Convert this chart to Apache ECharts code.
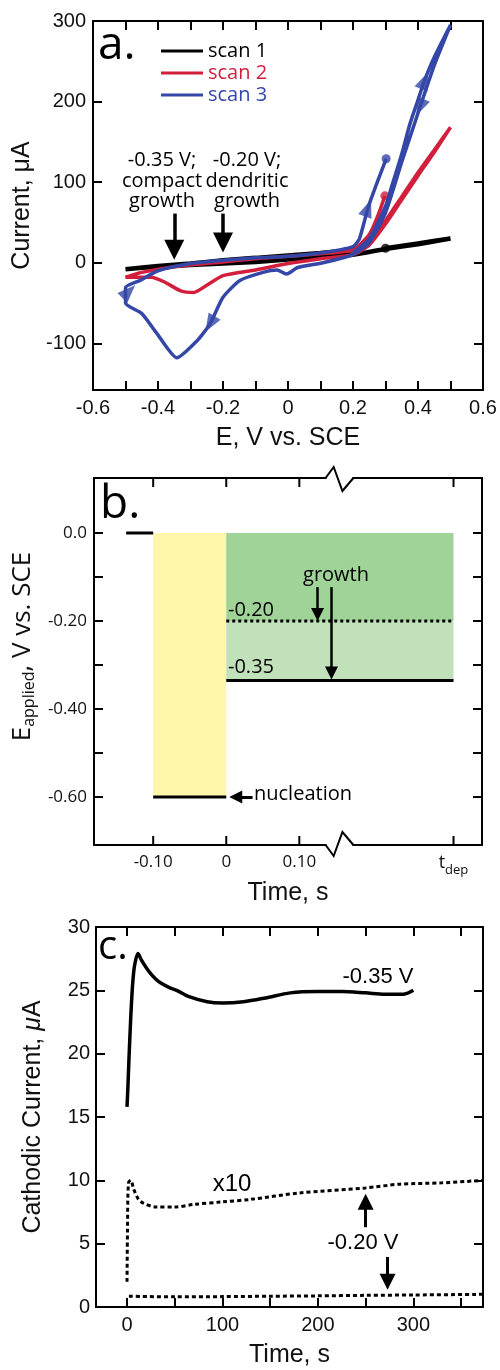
<!DOCTYPE html>
<html>
<head>
<meta charset="utf-8">
<script src="https://cdn.jsdelivr.net/npm/echarts@6.0.0/dist/echarts.min.js"></script>
<style>
html, body { margin: 0; padding: 0; background: #fff; }
#main { width: 500px; height: 1370px; }
</style>
</head>
<body>
<div id="main"></div>
<script>
// ---------- panel a: cyclic voltammograms (E in V, I in uA) ----------
const scan1E = [0.3, 0.4, 0.5, 0.4, 0.3, 0.2, 0.1, 0, -0.1, -0.2, -0.3, -0.4, -0.5, -0.4, -0.3, -0.2, -0.1, 0, 0.1, 0.2, 0.25, 0.29];
const scan1I = [18, 24, 30, 23, 17, 10, 7, 4, 1, -1, -3, -5, -8, -4, -1, 3, 6, 9, 12, 16, 26, 52];

const scan2E = [0.2, 0.25, 0.3, 0.35, 0.4, 0.45, 0.5, 0.45, 0.4, 0.35, 0.3, 0.25, 0.2, 0.1, 0, -0.1, -0.2, -0.25, -0.29, -0.33, -0.38, -0.42, -0.5, -0.45, -0.35, -0.2, -0.1, 0, 0.1, 0.2, 0.25, 0.28, 0.298];
const scan2I = [12, 24, 52, 82, 112, 140, 168, 137, 108, 78, 48, 22, 10, 5, -1, -9, -16, -28, -37, -35, -24, -18, -18, -12, -5, 1, 5, 8, 11, 16, 35, 62, 83];

const scan3E = [0.2, 0.25, 0.3, 0.32, 0.35, 0.375, 0.4, 0.42, 0.45, 0.5, 0.45, 0.406, 0.35, 0.3, 0.25, 0.2, 0.108, 0.03, -0.005, -0.034, -0.077, -0.148, -0.2, -0.24, -0.28, -0.342, -0.403, -0.45, -0.5, -0.5, -0.455, -0.4, -0.3, -0.2, -0.1, 0, 0.1, 0.2, 0.22, 0.246, 0.27, 0.302];
const scan3I = [12, 30, 70, 96, 135, 172, 202, 226, 255, 295, 245, 193, 125, 62, 25, 10, 0, -6, -14, -9, -12, -22, -43, -76, -97, -118, -88, -63, -50, -31, -22, -10, -1, 3, 6, 8, 12, 20, 30, 68, 95, 129];

const endDotE = [0.3, 0.298, 0.302];
const endDotI = [18, 83, 129];

const dirArrowE = [0.42, 0.406, 0.246, -0.49, -0.24];
const dirArrowI = [226, 193, 68, -36, -76];
const dirArrowRot = [-23, 157, -20, -45, 149];

const aXRange = [-0.6, 0.6], aYRange = [-158, 300];
const aXLabels = [-0.6, -0.4, -0.2, 0, 0.2, 0.4, 0.6];
const aYLabels = [-100, 0, 100, 200, 300];

// ---------- panel b: potential program ----------
const tDep = 0.311;
const bXRange = [-0.181, 0.35], bYRange = [-0.709, 0.125];
const preT = [-0.137, -0.1], preE = [0, 0];
const nucT = [-0.1, 0], nucE = [-0.6, -0.6];
const growT = [0, tDep];
const compactE = [-0.335, -0.335];
const dendriticE = [-0.2, -0.2];
const bXTicks = [-0.1, 0, 0.1, tDep];
const bYTicks = [0, -0.1, -0.2, -0.3, -0.4, -0.5, -0.6];
const bYLabels = [0, -0.2, -0.4, -0.6];

// ---------- panel c: chronoamperometry ----------
const c35T = [0, 1, 2, 4, 6, 8, 11.5, 15, 20, 25, 30, 35, 45, 52, 65, 84, 100, 122, 145, 171, 200, 225, 250, 270, 290, 300];
const c35I = [15.8, 17.5, 19.5, 23, 25.6, 27, 27.9, 27.4, 26.8, 26.3, 25.9, 25.6, 25.2, 25.0, 24.5, 24.1, 24.0, 24.1, 24.4, 24.8, 24.9, 24.9, 24.8, 24.7, 24.7, 25.0];
const c20x10T = [0, 0.5, 1.5, 4, 7, 12, 17, 30, 50, 70, 100, 130, 180, 250, 286, 330, 373];
const c20x10I = [2, 6, 9.8, 10, 9.3, 8.5, 8.2, 7.9, 7.9, 8.1, 8.3, 8.5, 9.0, 9.4, 9.7, 9.8, 10.0];
const c20T = [2, 50, 100, 150, 200, 250, 300, 373];
const c20I = [0.85, 0.8, 0.82, 0.85, 0.88, 0.92, 0.95, 1.0];
const cXRange = [-32.5, 373], cYRange = [0, 30];
const cXLabels = [0, 100, 200, 300];

const zip = (xs, ys) => xs.map((x, i) => [x, ys[i]]);

const BLACK = '#000', RED = '#d11f3c', BLUE = '#3447a6';
const SANS = 'Liberation Sans', MYR = 'Open Sans';

function axLine() { return { show: true, onZero: false, lineStyle: { color: '#000', width: 2 } }; }
function tickIn() { return { show: true, inside: true, length: 9, lineStyle: { color: '#000', width: 2 } }; }
function mirror(base, pos) {
  return Object.assign({}, base, { position: pos, name: '', axisLabel: { show: false }, axisTick: Object.assign({}, base.axisTick) });
}
const nameStyle = { fontFamily: SANS, fontSize: 25, color: '#111' };

const axA_x = {
  gridIndex: 0, type: 'value', min: aXRange[0], max: aXRange[1], interval: 0.1,
  axisLine: axLine(), axisTick: tickIn(), splitLine: { show: false },
  axisLabel: { customValues: aXLabels, formatter: v => String(v), fontFamily: SANS, fontSize: 20, color: '#111', margin: 8 },
  name: 'E, V vs. SCE', nameLocation: 'middle', nameGap: 36, nameTextStyle: nameStyle
};
const axA_y = {
  gridIndex: 0, type: 'value', min: aYRange[0], max: aYRange[1], splitNumber: 5,
  axisLine: axLine(), axisTick: tickIn(), splitLine: { show: false },
  axisLabel: { customValues: aYLabels, fontFamily: SANS, fontSize: 20, color: '#111', margin: 7 },
  name: 'Current, μA', nameLocation: 'middle', nameGap: 51, nameTextStyle: nameStyle
};
const axB_x = {
  gridIndex: 1, type: 'value', min: bXRange[0], max: bXRange[1],
  axisLine: axLine(), axisTick: { show: false }, splitLine: { show: false },
  axisLabel: {
    customValues: bXTicks, margin: 9, color: '#111', fontFamily: MYR, fontSize: 17,
    formatter: v => v === tDep ? '{t|t}{s|dep}' : (v === 0 ? '0' : v.toFixed(2)),
    rich: {
      t: { fontFamily: MYR, fontSize: 18, color: '#111', padding: [0, 0, 6, 0] },
      s: { fontFamily: MYR, fontSize: 13, color: '#111', padding: [9, 0, 0, 0] }
    }
  },
  name: 'Time, s', nameLocation: 'middle', nameGap: 36, nameTextStyle: nameStyle
};
const axB_y = {
  gridIndex: 1, type: 'value', min: bYRange[0], max: bYRange[1], splitNumber: 8,
  axisLine: axLine(), axisTick: { show: false }, splitLine: { show: false },
  axisLabel: { customValues: bYLabels, formatter: v => v === 0 ? '0.0' : v.toFixed(2), fontFamily: MYR, fontSize: 17, color: '#111', margin: 7 },
  name: '{m|E}{s|applied}{m|, V vs. SCE}', nameLocation: 'middle', nameGap: 57,
  nameTextStyle: {
    fontFamily: MYR, fontSize: 26, color: '#111', padding: [0, 0, 0, 30],
    rich: {
      m: { fontFamily: MYR, fontSize: 26, color: '#111' },
      s: { fontFamily: MYR, fontSize: 16, color: '#111', padding: [13, 0, 0, 0] }
    }
  }
};
const axC_x = {
  gridIndex: 2, type: 'value', min: cXRange[0], max: cXRange[1], splitNumber: 8,
  axisLine: axLine(), axisTick: tickIn(), splitLine: { show: false },
  axisLabel: { customValues: cXLabels, fontFamily: SANS, fontSize: 20, color: '#111', margin: 8 },
  name: 'Time, s', nameLocation: 'middle', nameGap: 36, nameTextStyle: nameStyle
};
const axC_y = {
  gridIndex: 2, type: 'value', min: cYRange[0], max: cYRange[1], interval: 5,
  axisLine: axLine(), axisTick: tickIn(), splitLine: { show: false },
  axisLabel: { fontFamily: SANS, fontSize: 20, color: '#111', margin: 6 },
  name: '{m|Cathodic Current, }{mu|μ}{m|A}', nameLocation: 'middle', nameGap: 50,
  nameTextStyle: {
    fontFamily: SANS, fontSize: 25, color: '#111',
    rich: {
      m: { fontFamily: SANS, fontSize: 25, color: '#111' },
      mu: { fontFamily: SANS, fontSize: 25, fontStyle: 'italic', color: '#111' }
    }
  }
};

function arrowLines(list, width, head) {
  return {
    silent: true, symbol: ['none', 'triangle'], symbolSize: head,
    label: { show: false }, emphasis: { disabled: true },
    lineStyle: { type: 'solid', color: '#000', width: width, opacity: 1 },
    itemStyle: { color: '#000' },
    data: list.map(a => [{ coord: a[0] }, { coord: a[1] }])
  };
}

const option = {
  animation: false,
  grid: [
    { left: 93, top: 21, width: 390, height: 369 },
    { left: 94, top: 478, width: 388, height: 367 },
    { left: 96, top: 927, width: 387, height: 380 }
  ],
  xAxis: [axA_x, mirror(axA_x, 'top'), axB_x, mirror(axB_x, 'top'), axC_x, mirror(axC_x, 'top')],
  yAxis: [axA_y, mirror(axA_y, 'right'), axB_y, mirror(axB_y, 'right'), axC_y, mirror(axC_y, 'right')],
  legend: {
    left: 156, top: 36, orient: 'vertical', icon: 'rect', itemWidth: 42, itemHeight: 3, itemGap: 2,
    selectedMode: false,
    textStyle: { fontFamily: MYR, fontSize: 20 },
    data: [
      { name: 'scan 1', textStyle: { color: BLACK, fontFamily: MYR, fontSize: 20 } },
      { name: 'scan 2', textStyle: { color: RED, fontFamily: MYR, fontSize: 20 } },
      { name: 'scan 3', textStyle: { color: BLUE, fontFamily: MYR, fontSize: 20 } }
    ]
  },
  series: [
    {
      name: 'scan 1', type: 'line', xAxisIndex: 0, yAxisIndex: 0, data: zip(scan1E, scan1I),
      symbol: 'none', smooth: 0.2, lineStyle: { color: BLACK, width: 4.5 }, itemStyle: { color: BLACK },
      markLine: arrowLines([[[-0.35, 61], [-0.35, 16]], [[-0.2, 61], [-0.2, 25]]], 3.5, 20)
    },
    {
      name: 'scan 2', type: 'line', xAxisIndex: 0, yAxisIndex: 0, data: zip(scan2E, scan2I),
      symbol: 'none', smooth: 0.2, lineStyle: { color: RED, width: 3.5 }, itemStyle: { color: RED }
    },
    {
      name: 'scan 3', type: 'line', xAxisIndex: 0, yAxisIndex: 0, data: zip(scan3E, scan3I),
      symbol: 'none', smooth: 0.2, lineStyle: { color: BLUE, width: 3.5 }, itemStyle: { color: BLUE }
    },
    {
      name: 'ends', type: 'scatter', xAxisIndex: 0, yAxisIndex: 0, symbolSize: 9, silent: true,
      data: endDotE.map((e, i) => ({ value: [e, endDotI[i]], itemStyle: { color: [BLACK, RED, BLUE][i] } }))
    },
    {
      name: 'direction', type: 'scatter', xAxisIndex: 0, yAxisIndex: 0, symbol: 'triangle', symbolSize: [14, 18], silent: true,
      itemStyle: { color: BLUE },
      data: dirArrowE.map((e, i) => ({ value: [e, dirArrowI[i]], symbolRotate: dirArrowRot[i] }))
    },
    // panel b
    {
      name: 'pre', type: 'line', xAxisIndex: 2, yAxisIndex: 2, data: zip(preT, preE),
      symbol: 'none', lineStyle: { color: BLACK, width: 3 }, z: 5,
      markArea: {
        silent: true,
        data: [
          [{ coord: [nucT[0], 0], itemStyle: { color: '#fff6a9' } }, { coord: [nucT[1], nucE[0]] }],
          [{ coord: [growT[0], 0], itemStyle: { color: '#9fd398' } }, { coord: [growT[1], dendriticE[0]] }],
          [{ coord: [growT[0], dendriticE[0]], itemStyle: { color: '#c1e1ba' } }, { coord: [growT[1], compactE[0]] }]
        ]
      }
    },
    {
      name: 'nucleation', type: 'line', xAxisIndex: 2, yAxisIndex: 2, data: zip(nucT, nucE),
      symbol: 'none', lineStyle: { color: BLACK, width: 3 }, z: 5,
      markLine: arrowLines([[[0.036, -0.6], [0.013, -0.6]]], 3, 13)
    },
    {
      name: 'compact', type: 'line', xAxisIndex: 2, yAxisIndex: 2, data: zip(growT, compactE),
      symbol: 'none', lineStyle: { color: BLACK, width: 3 }, z: 5,
      markLine: arrowLines([[[0.125, -0.123], [0.125, -0.185]], [[0.144, -0.123], [0.144, -0.318]]], 2.5, 13)
    },
    {
      name: 'dendritic', type: 'line', xAxisIndex: 2, yAxisIndex: 2, data: zip(growT, dendriticE),
      symbol: 'none', lineStyle: { color: BLACK, width: 3, type: [3, 3] }, z: 5
    },
    // panel c
    {
      name: '-0.35 V', type: 'line', xAxisIndex: 4, yAxisIndex: 4, data: zip(c35T, c35I),
      symbol: 'none', smooth: 0.3, lineStyle: { color: BLACK, width: 3.5 }
    },
    {
      name: '-0.20 V x10', type: 'line', xAxisIndex: 4, yAxisIndex: 4, data: zip(c20x10T, c20x10I),
      symbol: 'none', smooth: 0.3, lineStyle: { color: BLACK, width: 3, type: [4, 3] },
      markLine: arrowLines([[[250, 6.3], [250, 8.3]], [[273, 3.95], [273, 2.0]]], 3, 16)
    },
    {
      name: '-0.20 V', type: 'line', xAxisIndex: 4, yAxisIndex: 4, data: zip(c20T, c20I),
      symbol: 'none', smooth: 0.3, lineStyle: { color: BLACK, width: 3, type: [4, 3] }
    }
  ]
};

const chart = echarts.init(document.getElementById('main'));
chart.setOption(option);

function txt(text, x, y, size, family, align, extra) {
  return {
    type: 'text', x: x, y: y, z: 100,
    style: Object.assign({ text: text, fontSize: size, fontFamily: family, fill: '#000', align: align || 'center', verticalAlign: 'middle' }, extra || {})
  };
}
function seg(x1, y1, x2, y2) {
  return { type: 'line', z: 200, shape: { x1: x1, y1: y1, x2: x2, y2: y2 }, style: { stroke: '#000', lineWidth: 2 } };
}

// panel b has uneven tick positions (broken time axis), so its inward ticks are placed through the scales here
function frameTicks(xi, yi, xRange, yRange, xVals, yVals) {
  const left = chart.convertToPixel({ xAxisIndex: xi }, xRange[0]);
  const right = chart.convertToPixel({ xAxisIndex: xi }, xRange[1]);
  const bottom = chart.convertToPixel({ yAxisIndex: yi }, yRange[0]);
  const top = chart.convertToPixel({ yAxisIndex: yi }, yRange[1]);
  const L = 9, out = [];
  xVals.forEach(v => {
    const p = chart.convertToPixel({ xAxisIndex: xi }, v);
    out.push(seg(p, bottom, p, bottom - L));
    out.push(seg(p, top, p, top + L));
  });
  yVals.forEach(v => {
    const p = chart.convertToPixel({ yAxisIndex: yi }, v);
    out.push(seg(left, p, left + L, p));
    out.push(seg(right, p, right - L, p));
  });
  return out;
}

// axis break marks on panel b (top and bottom frame)
const brk = [0.136, 0.147, 0.159, 0.174].map(t => chart.convertToPixel({ xAxisIndex: 2 }, t));
const topY = chart.convertToPixel({ yAxisIndex: 2 }, bYRange[1]), botY = chart.convertToPixel({ yAxisIndex: 2 }, bYRange[0]);
function breakMark(edge, dir) {
  return [
    { type: 'line', z: 201, shape: { x1: brk[0] + 1, y1: edge, x2: brk[3] - 1, y2: edge }, style: { stroke: '#fff', lineWidth: 4 } },
    { type: 'polyline', z: 202, shape: { points: [[brk[0], edge], [brk[1], edge - 11 * dir], [brk[2], edge + 13 * dir], [brk[3], edge]] }, style: { stroke: '#000', lineWidth: 2, fill: null } }
  ];
}

const els = [
  txt('a.', 98, 46, 46, MYR, 'left'),
  txt('-0.35 V;\ncompact\ngrowth', 162, 181, 20, MYR, 'center', { lineHeight: 20.5 }),
  txt('-0.20 V;\ndendritic\ngrowth', 247, 181, 20, MYR, 'center', { lineHeight: 20.5 }),
  txt('b.', 100, 505, 46, MYR, 'left'),
  txt('growth', 336, 575, 20, MYR),
  txt('-0.20', 228, 610, 20, MYR, 'left'),
  txt('-0.35', 228, 667, 20, MYR, 'left'),
  txt('nucleation', 254, 794, 20, MYR, 'left'),
  txt('c.', 98, 948, 40, MYR, 'left'),
  txt('-0.35 V', 378, 977, 22, SANS),
  txt('x10', 232, 1184, 24, SANS),
  txt('-0.20 V', 363, 1243, 22, SANS)
];
frameTicks(2, 2, bXRange, bYRange, bXTicks, bYTicks).forEach(e => els.push(e));
breakMark(topY, 1).forEach(e => els.push(e));
breakMark(botY, -1).forEach(e => els.push(e));

chart.setOption({ graphic: els });
</script>
</body>
</html>
